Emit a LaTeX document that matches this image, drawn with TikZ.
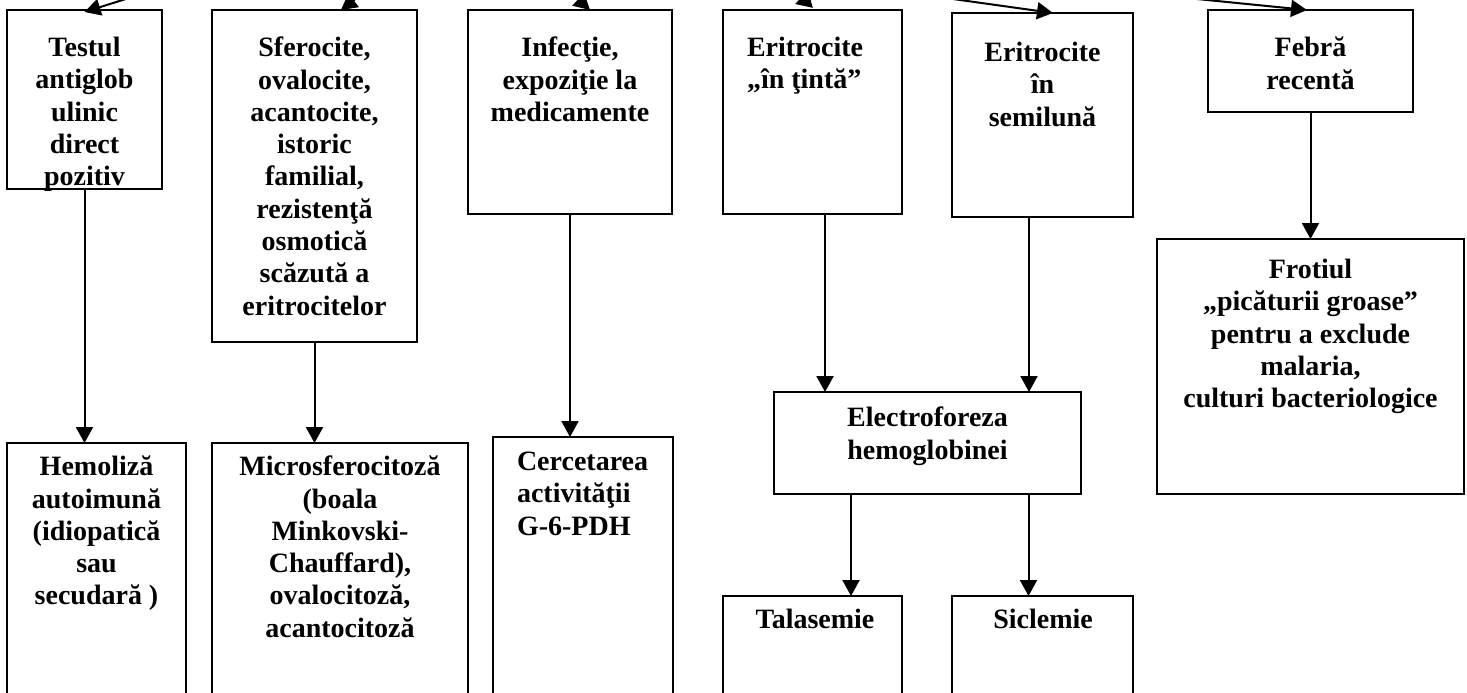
\documentclass[tikz,border=0pt]{standalone}
\usepackage{fontspec}
\setmainfont{Liberation Serif}
\usetikzlibrary{arrows.meta}
\begin{document}
\begin{tikzpicture}[x=1pt,y=-1pt,
  box/.style={draw, line width=2pt, inner sep=0pt, outer sep=0pt, anchor=north west},
  txt/.style={inner sep=0pt, outer sep=0pt, align=center, anchor=north,
    font=\bfseries\fontsize{28}{32.3}\selectfont, execute at begin node={\rule{0pt}{21pt}}},
  txtl/.style={txt, align=left, anchor=north west},
  arr/.style={line width=2pt, -{Triangle[length=16pt,width=17pt]}}]
\useasboundingbox (0,0) rectangle (1467,693);
\clip (0,0) rectangle (1467,693);

% boxes
\node[box, minimum width=155pt, minimum height=179pt] (b1) at (7,10) {};
\node[box, minimum width=205pt, minimum height=332pt] (b2) at (212,10) {};
\node[box, minimum width=204pt, minimum height=204pt] (b3) at (468,10) {};
\node[box, minimum width=179pt, minimum height=204pt] (b4) at (723,10) {};
\node[box, minimum width=181pt, minimum height=204pt] (b5) at (952,13) {};
\node[box, minimum width=205pt, minimum height=102pt] (b6) at (1208,10) {};
\node[box, minimum width=179pt, minimum height=300pt] (hemo) at (7,443) {};
\node[box, minimum width=256pt, minimum height=300pt] (micro) at (212,443) {};
\node[box, minimum width=180pt, minimum height=300pt] (cerc) at (493,437) {};
\node[box, minimum width=307pt, minimum height=102pt] (el) at (774,392) {};
\node[box, minimum width=179pt, minimum height=150pt] (tala) at (723,596) {};
\node[box, minimum width=181pt, minimum height=150pt] (sicl) at (952,596) {};
\node[box, minimum width=307pt, minimum height=255pt] (frot) at (1157,239) {};

% texts
\node[txt] (b1t) at (84.5,37) {Testul\\antiglob\\ulinic\\direct\\pozitiv};
\node[txt] (b2t) at (314.5,37) {Sferocite,\\ovalocite,\\acantocite,\\istoric\\familial,\\rezistenţă\\osmotică\\scăzută a\\eritrocitelor};
\node[txt] (b3t) at (570,37) {Infecţie,\\expoziţie la\\medicamente};
\node[txtl] (b4t) at (747,37) {Eritrocite\\„în ţintă”};
\node[txt] (b5t) at (1042.5,42) {Eritrocite\\în\\semilună};
\node[txt] (b6t) at (1310.5,37) {Febră\\recentă};
\node[txt] (frott) at (1310.5,259) {Frotiul\\„picăturii groase”\\pentru a exclude\\malaria,\\culturi bacteriologice};
\node[txt] (elt) at (927.5,407) {Electroforeza\\hemoglobinei};
\node[txt] (hemot) at (96.5,456) {Hemoliză\\autoimună\\(idiopatică\\sau\\secudară )};
\node[txt] (microt) at (340,456) {Microsferocitoză\\(boala\\Minkovski-\\Chauffard),\\ovalocitoză,\\acantocitoză};
\node[txtl] (cerct) at (517,452) {Cercetarea\\activităţii\\G-6-PDH};
\node[txt] (talat) at (815,607) {Talasemie};
\node[txt] (siclt) at (1043,607) {Siclemie};

% incoming arrows from above (cut by the page edge)
\coordinate (in1) at (199,-24);
\coordinate (in2) at (380,-20);
\coordinate (in3) at (557,-20);
\coordinate (in4) at (915,-32);
\coordinate (in5) at (853,-15);
\coordinate (in6) at (1057,-15);
\draw[arr] (in1) -- ([yshift=-2pt]b1.north);
\draw[arr] (in2) -- ([xshift=26.5pt]b2.north);
\draw[arr] (in3) -- ([xshift=20pt]b3.north);
\draw[arr] (in4) -- ([xshift=-17.5pt,yshift=6pt]b4.north);
\draw[arr] (in5) -- ([xshift=10.5pt]b5.north);
\draw[arr] (in6) -- ([xshift=-3.5pt]b6.north);

% vertical connectors
\draw[arr] (b1.south) -- (b1.south |- hemo.north);
\draw[arr] (b2.south) -- (b2.south |- micro.north);
\draw[arr] (b3.south) -- (b3.south |- cerc.north);
\draw[arr] ([xshift=12.5pt]b4.south) -- ([xshift=12.5pt]b4.south |- el.north);
\draw[arr] ([xshift=-13.5pt]b5.south) -- ([xshift=-13.5pt]b5.south |- el.north);
\draw[arr] ([xshift=38.5pt]tala.north |- el.south) -- ([xshift=38.5pt]tala.north);
\draw[arr] ([xshift=-14pt]sicl.north |- el.south) -- ([xshift=-14pt]sicl.north);
\draw[arr] (b6.south) -- (b6.south |- frot.north);
\end{tikzpicture}
\end{document}
